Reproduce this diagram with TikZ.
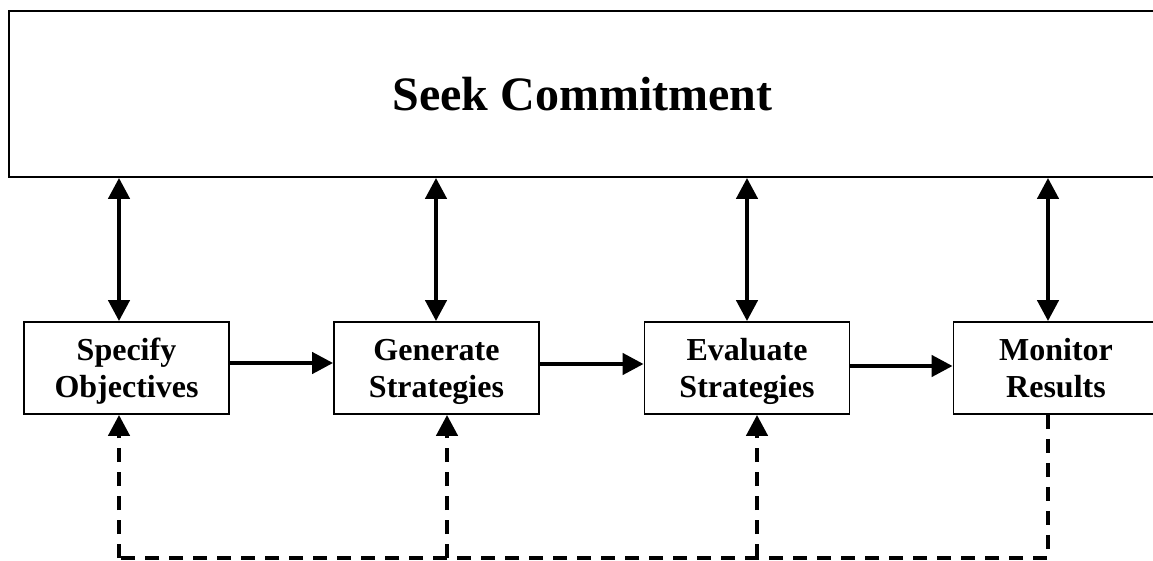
\documentclass[tikz,border=0pt]{standalone}
\usepackage{fontspec}
\setmainfont{Liberation Serif}
\usetikzlibrary{arrows.meta}
\newcommand{\toptxt}{\rule{0pt}{31pt}}
\newcommand{\bottxt}{\rule[-10pt]{0pt}{0pt}}
\tikzset{
  stage/.style={draw, line width=1.8pt, minimum width=205pt, minimum height=92pt, inner sep=0pt, align=center, font=\fontsize{32}{37}\selectfont\bfseries},
  topbox/.style={draw, line width=1.8pt, minimum width=1147pt, minimum height=166pt, inner sep=0pt, font=\fontsize{48}{56}\selectfont\bfseries},
  link/.style={line width=4.4pt, -{Triangle[length=21pt,width=21pt]}},
  dlink/.style={line width=4.4pt, {Triangle[length=21pt,width=21pt]}-{Triangle[length=21pt,width=21pt]}},
  fb/.style={line width=4.4pt, dash pattern=on 14pt off 10pt}
}
\begin{document}
\begin{tikzpicture}[x=1pt,y=-1pt]
\useasboundingbox (0,0) rectangle (1153,561);
\clip (0,0) rectangle (1153,561);
\fill[white] (0,0) rectangle (1153,561);
\node[topbox] (top) at (582.5,94) {\raisebox{-3pt}{Seek Commitment}};
\node[stage] (b1) at (126.5,368) {\toptxt Specify\\Objectives\bottxt};
\node[stage] (b2) at (436.5,368) {\toptxt Generate\\Strategies\bottxt};
\node[stage] (b3) at (747,368) {\toptxt Evaluate\\Strategies\bottxt};
\node[stage] (b4) at (1056,368) {\toptxt Monitor\\Results\bottxt};
\coordinate (a1) at (119,0);
\coordinate (a2) at (436,0);
\coordinate (a3) at (747,0);
\coordinate (a4) at (1048,0);
\draw[dlink] (top.south -| a1) -- (b1.north -| a1);
\draw[dlink] (top.south -| a2) -- (b2.north -| a2);
\draw[dlink] (top.south -| a3) -- (b3.north -| a3);
\draw[dlink] (top.south -| a4) -- (b4.north -| a4);
\draw[link] ([yshift=5pt]b1.east) -- ([yshift=5pt]b2.west);
\draw[link] ([yshift=4pt]b2.east) -- ([yshift=4pt]b3.west);
\draw[link] ([yshift=2pt]b3.east) -- ([yshift=2pt]b4.west);
\coordinate (d1) at (119,558);
\coordinate (d2) at (447,558);
\coordinate (d3) at (757,558);
\coordinate (d4) at (1048,558);
\draw[fb] (b4.south -| d4) -- (d4) -- (d1);
\draw[fb, -{Triangle[length=21pt,width=21pt]}] (d1) -- (b1.south -| d1);
\draw[fb, -{Triangle[length=21pt,width=21pt]}] (d2) -- (b2.south -| d2);
\draw[fb, -{Triangle[length=21pt,width=21pt]}] (d3) -- (b3.south -| d3);
\end{tikzpicture}
\end{document}
